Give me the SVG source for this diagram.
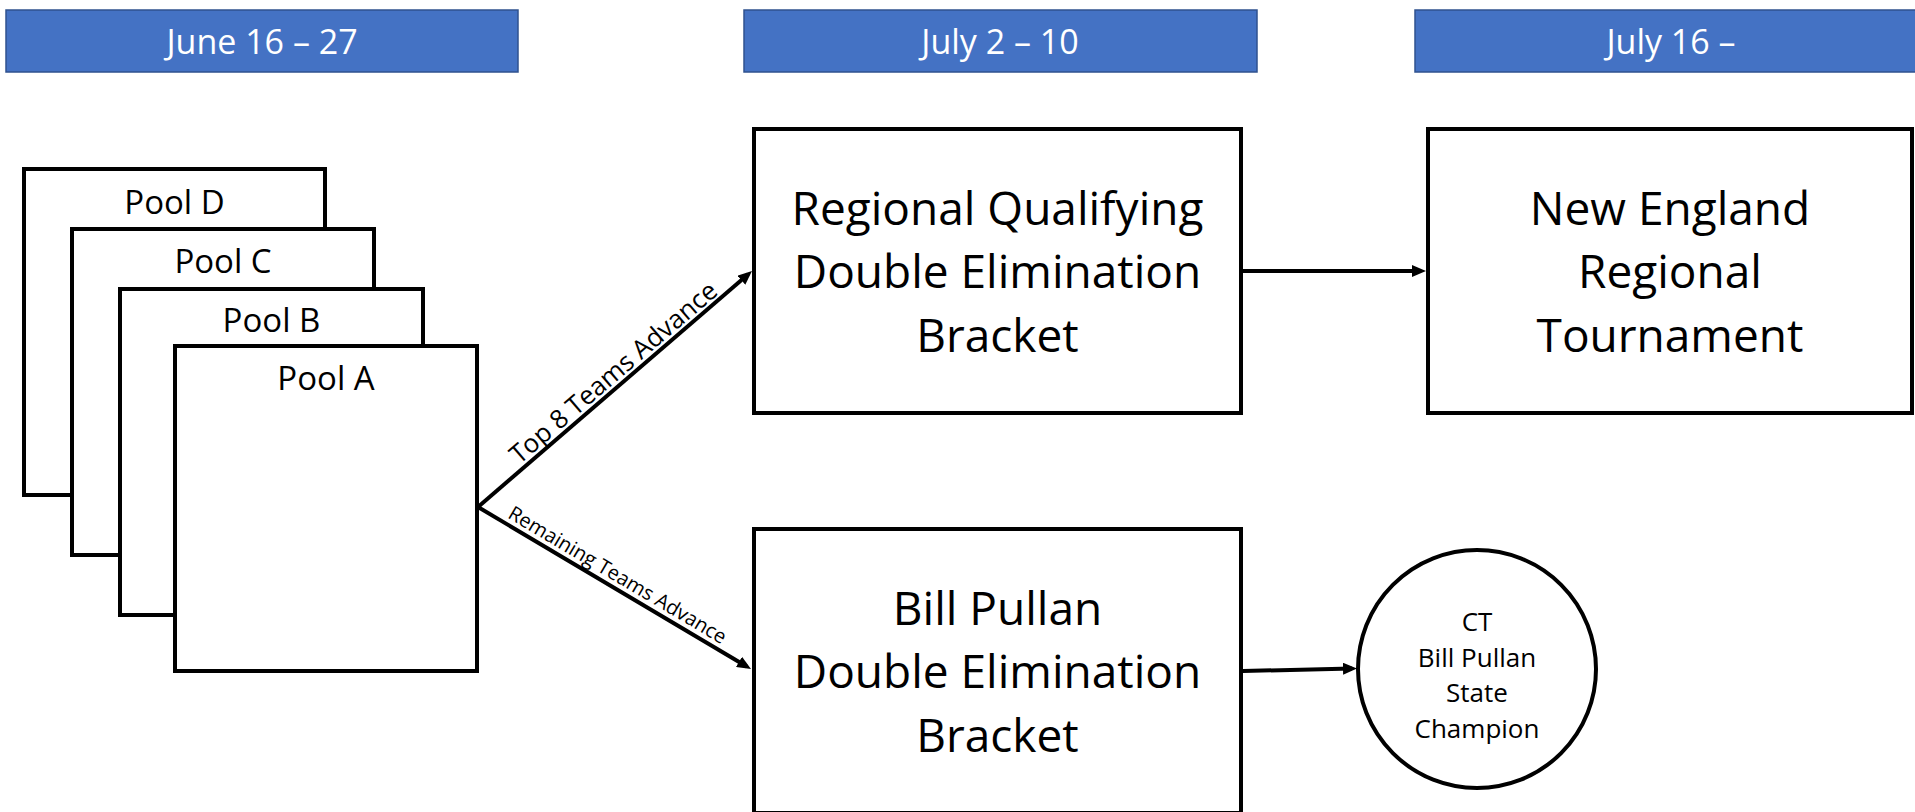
<svg xmlns="http://www.w3.org/2000/svg" width="1915" height="812" viewBox="0 0 1915 812">
<defs>
<style>
.bar{fill:#4472C4;stroke:#2F528F;stroke-width:1.5}
.bart{font-family:"Open Sans","Noto Sans",sans-serif;font-size:34px;fill:#FFFFFF;text-anchor:middle}
.box{fill:#FFFFFF;stroke:#000000;stroke-width:4}
.pt{font-family:"Open Sans","Noto Sans",sans-serif;font-size:33px;fill:#000000;text-anchor:middle}
.bt{font-family:"Open Sans","Noto Sans",sans-serif;font-size:46px;fill:#000000;text-anchor:middle}
.ct{font-family:"Open Sans","Noto Sans",sans-serif;font-size:26px;fill:#000000;text-anchor:middle}
.lt{font-family:"Open Sans","Noto Sans",sans-serif;fill:#000000;text-anchor:middle}
.ln{fill:none;stroke:#000000;stroke-width:4}
</style>
<marker id="arr" markerUnits="userSpaceOnUse" markerWidth="14" markerHeight="12" refX="9" refY="6" orient="auto">
<path d="M0,0 L14,6 L0,12 z" fill="#000000"/>
</marker>
</defs>
<rect width="1915" height="812" fill="#FFFFFF"/>
<g id="header-june">
<rect class="bar" x="6" y="10" width="512" height="62"/>
<text class="bart" x="262" y="54">June 16 – 27</text>
</g>
<g id="header-july2">
<rect class="bar" x="744" y="10" width="513" height="62"/>
<text class="bart" x="1000" y="54">July 2 – 10</text>
</g>
<g id="header-july16">
<rect class="bar" x="1415" y="10" width="513" height="62"/>
<text class="bart" x="1671" y="54">July 16 –</text>
</g>
<g id="pool-d">
<rect class="box" x="24" y="169" width="301" height="326"/>
<text class="pt" x="174.5" y="214">Pool D</text>
</g>
<g id="pool-c">
<rect class="box" x="72" y="229" width="302" height="326"/>
<text class="pt" x="223" y="273">Pool C</text>
</g>
<g id="pool-b">
<rect class="box" x="120" y="289" width="303" height="326"/>
<text class="pt" x="271.5" y="332">Pool B</text>
</g>
<g id="pool-a">
<rect class="box" x="175" y="346" width="302" height="325"/>
<text class="pt" x="326" y="390">Pool A</text>
</g>
<g id="regional-qualifying">
<rect class="box" x="754" y="129" width="487" height="284"/>
<text class="bt" x="997.5" y="225">Regional Qualifying</text>
<text class="bt" x="997.5" y="288">Double Elimination</text>
<text class="bt" x="997.5" y="352">Bracket</text>
</g>
<g id="new-england">
<rect class="box" x="1428" y="129" width="484" height="284"/>
<text class="bt" x="1670" y="225">New England</text>
<text class="bt" x="1670" y="288">Regional</text>
<text class="bt" x="1670" y="352">Tournament</text>
</g>
<g id="bill-pullan">
<rect class="box" x="754" y="529" width="487" height="284"/>
<text class="bt" x="997.5" y="625">Bill Pullan</text>
<text class="bt" x="997.5" y="688">Double Elimination</text>
<text class="bt" x="997.5" y="752">Bracket</text>
</g>
<g id="state-champion">
<circle class="box" cx="1477" cy="669" r="119"/>
<text class="ct" x="1477" y="631">CT</text>
<text class="ct" x="1477" y="666.5">Bill Pullan</text>
<text class="ct" x="1477" y="702">State</text>
<text class="ct" x="1477" y="737.5">Champion</text>
</g>
<g id="connectors">
<path class="ln" d="M478,507 L748.2,274.3" marker-end="url(#arr)"/>
<path class="ln" d="M478,507 L746.7,666.5" marker-end="url(#arr)"/>
<path class="ln" d="M1243,271 L1421,271" marker-end="url(#arr)"/>
<path class="ln" d="M1243,671 L1352,668.6" marker-end="url(#arr)"/>
<text class="lt" font-size="26" transform="translate(622.5,383) rotate(-40.6)" x="0" y="-5">Top 8 Teams Advance</text>
<text class="lt" font-size="20" transform="translate(611,586) rotate(30.6)" x="0" y="-6">Remaining Teams Advance</text>
</g>
</svg>
